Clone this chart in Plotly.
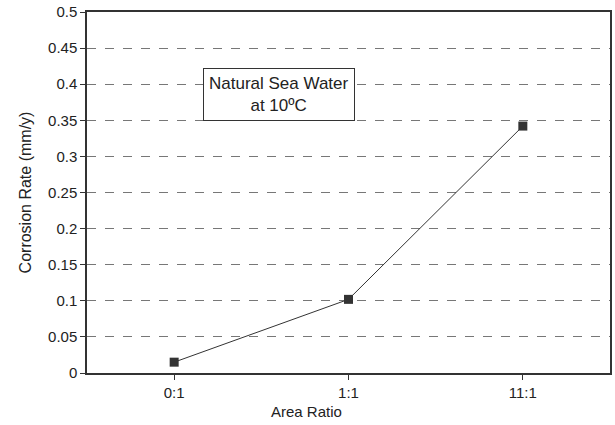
import plotly.graph_objects as go

categories = ["0:1", "1:1", "11:1"]
corrosion_rate = [0.015, 0.102, 0.342]
y_ticks = [0, 0.05, 0.1, 0.15, 0.2, 0.25, 0.3, 0.35, 0.4, 0.45, 0.5]
y_tick_labels = ["0", "0.05", "0.1", "0.15", "0.2", "0.25", "0.3", "0.35", "0.4", "0.45", "0.5"]

fig = go.Figure()
fig.add_trace(go.Scatter(
    x=categories, y=corrosion_rate, mode="lines+markers",
    line=dict(color="#333333", width=1),
    marker=dict(symbol="square", size=9, color="#333333"),
    showlegend=False,
))

font = "Liberation Sans, Arial, sans-serif"
fig.update_layout(
    width=615, height=425,
    margin=dict(l=87, r=3, t=11, b=52),
    plot_bgcolor="white", paper_bgcolor="white",
    font=dict(family=font, size=15, color="#222222"),
    xaxis=dict(
        type="category", range=[-0.5, 2.5],
        showline=True, linecolor="#333333", linewidth=1.5, mirror=True,
        ticks="outside", ticklen=5, tickcolor="#333333",
        showgrid=False,
    ),
    yaxis=dict(
        range=[0, 0.5], tickvals=y_ticks, ticktext=y_tick_labels,
        showline=True, linecolor="#333333", linewidth=1.5, mirror=True,
        ticks="outside", ticklen=5, tickcolor="#333333",
        showgrid=True, gridcolor="#777777", griddash="dash", gridwidth=1,
        zeroline=False,
        title=dict(text="Corrosion Rate (mm/y)", font=dict(size=16), standoff=12),
    ),
)

# x-axis title (slightly left of centre, as in the reference)
fig.add_annotation(
    xref="paper", yref="paper", x=0.419, y=-0.107,
    xanchor="center", yanchor="middle",
    text="Area Ratio", showarrow=False, font=dict(size=15, color="#222222"),
)

fig.add_annotation(
    xref="paper", yref="paper", x=0.368, y=0.772,
    xanchor="center", yanchor="middle",
    text="Natural Sea Water<br>at 10ºC", showarrow=False,
    font=dict(size=17, color="#222222"),
    bordercolor="#333333", borderwidth=1, borderpad=5, bgcolor="white",
    align="center",
)

fig.write_html("out.html")
